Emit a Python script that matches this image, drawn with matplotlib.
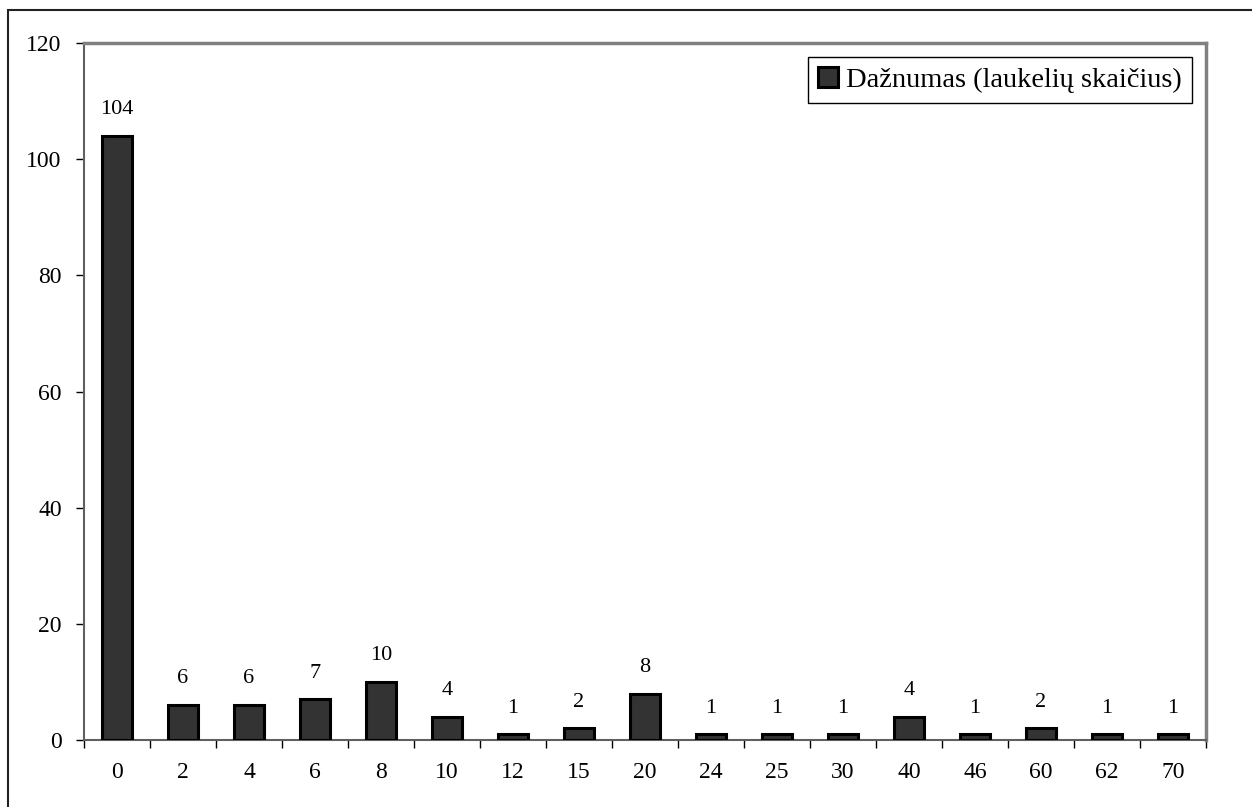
import matplotlib
matplotlib.use('Agg')
import matplotlib.pyplot as plt
from matplotlib.patches import Rectangle
import numpy as np

# values per category (laukelių skaičius)
categories = ['0', '2', '4', '6', '8', '10', '12', '15', '20', '24', '25',
              '30', '40', '46', '60', '62', '70']
counts = [104, 6, 6, 7, 10, 4, 1, 2, 8, 1, 1, 1, 4, 1, 2, 1, 1]
yticks = [0, 20, 40, 60, 80, 100, 120]
legend_label = 'Dažnumas (laukelių skaičius)'

plt.rcParams['font.family'] = ['Liberation Serif', 'DejaVu Serif']

W, H = 1252, 807
fig = plt.figure(figsize=(W / 100, H / 100), dpi=100)
ax = fig.add_axes([84 / W, 1 - 740 / H, (1206 - 84) / W, (740 - 43) / H])

# outer chart frame (only top/left edges visible in the reference)
fig.patches.append(Rectangle((8 / W, -0.1), 1.2, 1 - 10 / H + 0.1,
                             transform=fig.transFigure, fill=False,
                             edgecolor='#222222', lw=1.5))

x = np.arange(len(categories))
bars = ax.bar(x, counts, width=0.45, color='#333333', edgecolor='black',
              lw=2.2, label=legend_label, zorder=3)
for xi, v in zip(x, counts):
    ax.annotate(str(v), (xi, v), xytext=(0, 12), textcoords='offset points',
                ha='center', va='bottom', fontsize=16)

ax.set_xlim(-0.5, len(categories) - 0.5)
ax.set_ylim(0, 120)
ax.set_yticks(yticks)
ax.set_yticklabels([str(t) for t in yticks], fontsize=17)
ax.set_xticks(x)
ax.set_xticklabels(categories, fontsize=17)
ax.tick_params(axis='x', length=0, pad=16)
ax.set_xticks(np.arange(len(categories) + 1) - 0.5, minor=True)
ax.tick_params(axis='x', which='minor', length=6, width=1, color='black',
               direction='out')
ax.tick_params(axis='y', length=6, width=1, color='black', direction='out',
               pad=10)

for side in ('top', 'right'):
    ax.spines[side].set_color('#808080')
    ax.spines[side].set_linewidth(2.5)
for side in ('left', 'bottom'):
    ax.spines[side].set_color('#606060')
    ax.spines[side].set_linewidth(1.5)

leg = ax.legend(loc='upper right', fontsize=20.5, frameon=True, fancybox=False,
                framealpha=1, edgecolor='black', handlelength=0.7,
                handleheight=0.7, handletextpad=0.3, borderpad=0.35,
                borderaxespad=0.5)
leg.get_frame().set_linewidth(1.0)

fig.savefig('out.png', dpi=100)
